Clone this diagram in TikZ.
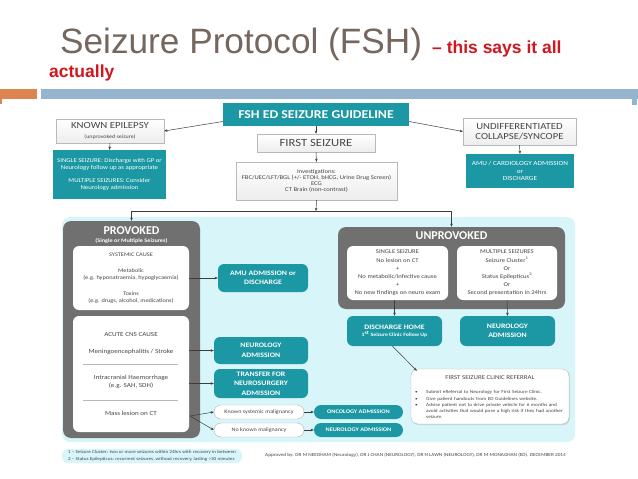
\documentclass[tikz,border=0pt]{standalone}
\usepackage{fontspec}
\setmainfont[FakeStretch=1.15]{Carlito}
\newfontfamily\plainfont{Carlito}
\newfontfamily\titlefont{Liberation Sans}
\usetikzlibrary{arrows.meta,shadows}
\definecolor{tealc}{RGB}{27,152,163}
\definecolor{grayp}{RGB}{112,112,112}
\definecolor{cyanbg}{RGB}{216,246,250}
\definecolor{titlec}{RGB}{117,102,94}
\definecolor{redc}{RGB}{208,22,30}
\definecolor{orangec}{RGB}{221,132,82}
\definecolor{bluec}{RGB}{149,180,207}
\definecolor{linec}{RGB}{60,60,60}
\definecolor{textc}{RGB}{70,70,70}
\newcommand\fsz[2]{\fontsize{#1}{#2}\selectfont}
\newcommand\bitem[1]{\par\noindent\makebox[11pt][l]{\textbullet}\parbox[t]{141pt}{\raggedright #1}}
\begin{document}
\begin{tikzpicture}[x=1pt,y=-1pt,
  arr/.style={draw=linec, line width=0.5pt, -{Stealth[length=3.2pt,width=2.6pt]}},
  wh/.style 2 args={minimum width=#1pt, minimum height=#2pt},
  tealbox/.style={fill=tealc, text=white, align=center, inner sep=0pt, font=\bfseries},
  tealr/.style={tealbox, rounded corners=6pt},
  lgbox/.style={draw=gray!55, top color=white, bottom color=gray!14, align=center, inner sep=0pt, text=textc,
     drop shadow={opacity=0.25, shadow xshift=1pt, shadow yshift=-1pt}},
  grayb/.style={fill=grayp, rounded corners=8pt, inner sep=0pt},
  wbox/.style={fill=white, rounded corners=6pt, inner sep=0pt, align=center, text=textc},
  pill/.style={draw=gray!60, fill=white, rounded corners=7pt, inner sep=0pt, text=textc, font=\fsz{5.3}{6}},
  txt/.style={inner sep=0pt, text=textc, align=center}
]
\fill[white] (0,0) rectangle (638,479);
\useasboundingbox (0,0) rectangle (638,479);

% ---------- header ----------
\node[anchor=base west, inner sep=0pt, text=titlec, font=\titlefont\fsz{35.2}{36}] (title) at (60,53) {Seizure Protocol (FSH)};
\node[anchor=base west, inner sep=0pt, text=redc, font=\titlefont\bfseries\fsz{17.5}{18}] (sub) at (432,53) {– this says it all};
\node[anchor=base west, inner sep=0pt, text=redc, font=\titlefont\bfseries\fsz{17.5}{18}] (sub2) at (49,77) {actually};
\fill[orangec] (0,89) rectangle (37,99);
\fill[bluec] (41,89) rectangle (638,99);
\fill[orangec] (0,99) rectangle (2,104);
\fill[bluec] (632,99) rectangle (637,105);

% ---------- top row ----------
\node[tealbox, wh={186}{23}, font=\bfseries\fsz{12}{12}] (fsh) at (316,114.5) {FSH ED SEIZURE GUIDELINE};
\node[lgbox, wh={108}{24}] (known) at (110,131) {{\fsz{9.4}{10}KNOWN EPILEPSY}\\[-1.5pt]{\fsz{5.2}{5.5}(unprovoked seizure)}};
\node[tealbox, wh={113}{49}, font=\fsz{5.9}{7.3}] (single1) at (109.5,174.5)
  {SINGLE SEIZURE: Discharge with GP or\\Neurology follow up as appropriate\\[6pt]MULTIPLE SEIZURES: Consider\\Neurology admission};
\node[lgbox, wh={113}{27}, font=\fsz{9.3}{9.8}] (undiff) at (519.5,131.5) {UNDIFFERENTIATED\\COLLAPSE/SYNCOPE};
\node[tealbox, wh={108}{34}, font=\fsz{6.3}{7.8}] (amu1) at (520,171) {AMU / CARDIOLOGY ADMISSION\\or\\DISCHARGE};
\node[lgbox, wh={118}{18}, font=\fsz{11}{11}] (first) at (316,143) {FIRST SEIZURE};
\node[lgbox, wh={161}{38}, font=\fsz{5.8}{6}] (invest) at (316.5,181)
  {Investigations:\\FBC/UEC/LFT/BGL (+/- ETOH, bHCG, Urine Drug Screen)\\ECG\\CT Brain (non-contrast)};

\draw[arr] ([yshift=-7pt]fsh.west) -- (known.east);
\draw[arr] ([yshift=-7pt]fsh.east) -- (undiff.west);
\draw[arr] (known.south) -- (single1.north);
\draw[arr] (undiff.south) -- (amu1.north);
\draw[arr] (fsh.south) -- (first.north);
\draw[arr] (first.south) -- (invest.north);

% ---------- lower panel ----------
\fill[cyanbg, rounded corners=8pt] (62,217) rectangle (575,442);

\node[grayb, wh={137}{217}] (prov) at (131.5,329.5) {};
\node[txt, text=white, font=\plainfont\bfseries\fsz{12}{12}] (provt) at (131.5,231) {PROVOKED};
\node[txt, text=white, font=\bfseries\fsz{5.4}{5.5}] (provs) at (131.5,240.5) {(Single or Multiple Seizures)};
\node[wbox, wh={116}{64}, font=\fsz{5.5}{7.3}] (sys) at (131,278)
  {SYSTEMIC CAUSE\\[8.5pt]Metabolic\\(e.g. hyponatraemia, hypoglycaemia)\\[8.5pt]Toxins\\(e.g. drugs, alcohol, medications)};
\node[wbox, wh={116}{116}] (cns) at (131,374) {};
\node[txt, font=\fsz{6.2}{7}] (cnst) at (131,335) {ACUTE CNS CAUSE};
\node[txt, font=\fsz{6.2}{7}] (mening) at (131,352) {Meningoencephalitis / Stroke};
\draw[gray!55, line width=0.8pt] (83,364) -- (178,364);
\node[txt, font=\fsz{6.2}{7.8}] (ich) at (131,382) {Intracranial Haemorrhage\\(e.g. SAH, SDH)};
\draw[gray!55, line width=0.8pt] (83,400) -- (178,400);
\node[txt, font=\fsz{6.2}{7}] (mass) at (131,413) {Mass lesion on CT};

\node[tealr, wh={90}{28}, font=\bfseries\fsz{6.8}{9.5}] (amu2) at (263,278) {AMU ADMISSION or\\DISCHARGE};
\node[tealr, wh={94}{27}, font=\bfseries\fsz{6.8}{9.5}] (neuro1) at (261,350.5) {NEUROLOGY\\ADMISSION};
\node[tealr, wh={94}{29}, font=\bfseries\fsz{6.8}{9.3}] (nsurg) at (261,383.5) {TRANSFER FOR\\NEUROSURGERY\\ADMISSION};
\node[pill, wh={90}{14}] (kmal) at (259,412) {Known systemic malignancy};
\node[pill, wh={90}{14}] (nmal) at (259,430) {No known malignancy};
\node[tealr, rounded corners=7pt, wh={89}{14}, font=\bfseries\fsz{5.5}{6}] (onco) at (358.5,412) {ONCOLOGY ADMISSION};
\node[tealr, rounded corners=7pt, wh={89}{14}, font=\bfseries\fsz{5.5}{6}] (neuro2) at (358.5,430) {NEUROLOGY ADMISSION};

\coordinate (mfork) at (190,416);
\draw[arr] (sys.east) -- (amu2.west);
\draw[arr] (cns.east |- neuro1.west) -- (neuro1.west);
\draw[arr] (cns.east |- nsurg.west) -- (nsurg.west);
\draw[arr] (mfork) -- (kmal.west);
\draw[arr] (mfork) -- (nmal.west);
\draw[arr] (kmal.east) -- (onco.west);
\draw[arr] (nmal.east) -- (neuro2.west);

\node[grayb, wh={227}{82}] (unprov) at (451.5,268) {};
\node[txt, text=white, font=\plainfont\bfseries\fsz{12}{12}] (unprovt) at (451.5,236) {UNPROVOKED};
\node[wbox, wh={101}{54}, font=\fsz{5.8}{8.2}] (single2) at (397.5,273)
  {SINGLE SEIZURE\\No lesion on CT\\+\\No metabolic/infective cause\\+\\No new findings on neuro exam};
\node[wbox, wh={100}{54}, font=\fsz{5.8}{8.2}] (multi) at (507,273)
  {MULTIPLE SEIZURES\\Seizure Cluster\textsuperscript{1}\\Or\\Status Epilepticus\textsuperscript{2}\\Or\\Second presentation in 24hrs};
\node[tealr, wh={95}{30}, font=\fsz{5}{6}] (dhome) at (394.5,331)
  {{\bfseries\fsz{6.8}{9.5}DISCHARGE HOME}\\[1pt]{\bfseries 1\textsuperscript{st} Seizure Clinic Follow Up}};
\node[tealr, wh={95}{30}, font=\bfseries\fsz{6.8}{9.5}] (neuro3) at (507.5,331) {NEUROLOGY\\ADMISSION};
\node[draw=gray!55, fill=white, rounded corners=7pt, inner sep=0pt, wh={158}{55},
  drop shadow={opacity=0.25, shadow xshift=1pt, shadow yshift=-1pt}] (fscr) at (490,396.5) {};
\node[txt, font=\fsz{6}{6}] (fscrt) at (490,377.5) {FIRST SEIZURE CLINIC REFERRAL};
\node[txt, anchor=north west, text width=153pt, align=left, font=\fsz{4.6}{6.2}] (fscrl) at (415,387.5)
  {\bitem{Submit eReferral to Neurology for First Seizure Clinic.}
   \bitem{Give patient handouts from ED Guidelines website.}
   \bitem{Advise patient not to drive private vehicle for 6 months and\\avoid activities that would pose a high risk if they had another\\seizure.}};

\draw[arr] (invest.south) -- (316,211) coordinate (junc);
\draw[arr] (junc) -| (prov.north);
\draw[arr] (junc) -| (unprov.north);
\draw[arr] (dhome.north |- single2.south) -- (dhome.north);
\draw[arr] (multi.south) -- (neuro3.north);
\draw[arr] ([xshift=-2pt]dhome.south) -- ([xshift=6pt,yshift=-2pt]fscr.north west);

% ---------- footer ----------
\node[fill=cyanbg, rounded corners=6pt, inner sep=0pt, wh={180}{14}] (foot) at (152,456) {};
\node[txt, align=left, font=\fsz{4.5}{6.4}] (foott) at (152,456)
  {1 -- Seizure Cluster: two or more seizures within 24hrs with recovery in between\\2 -- Status Epilepticus: recurrent seizures, without recovery, lasting {>}30 minutes};
\node[txt, anchor=west, font=\fsz{4.6}{5}] (appr) at (265,455)
  {Approved by: DR M NEEDHAM (Neurology), DR J CHAN (NEUROLOGY), DR N LAWN (NEUROLOGY), DR M MONAGHAN (ED). DECEMBER 2014};
\end{tikzpicture}
\end{document}
